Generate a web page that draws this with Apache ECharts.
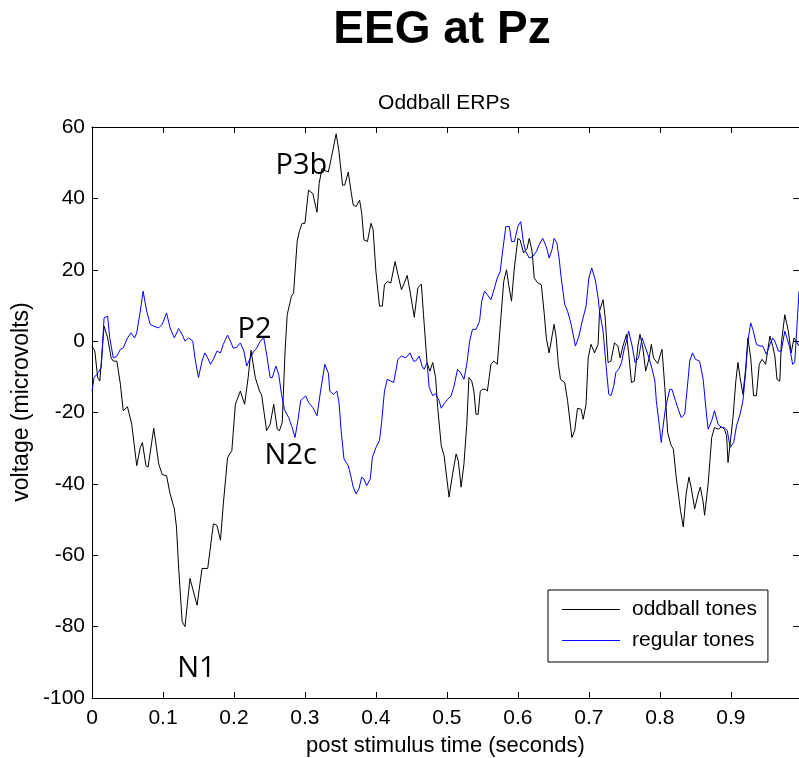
<!DOCTYPE html>
<html>
<head>
<meta charset="utf-8">
<script src="https://cdn.jsdelivr.net/npm/echarts@6/dist/echarts.min.js"></script>
<style>
  html, body { margin: 0; padding: 0; background: #fff; }
  #chart { width: 799px; height: 758px; }
</style>
</head>
<body>
<div id="chart"></div>
<script>
// Grand-average ERP at electrode Pz: [time (s), voltage (µV)]
const oddballTones = [
  [0.000,-1.4],[0.004,-2.8],[0.008,-10.2],[0.011,-11.2],[0.017,4.2],[0.022,0.9],[0.027,-4.7],[0.030,-5.6],
  [0.035,-5.6],[0.040,-12.1],[0.044,-19.5],[0.050,-18.4],[0.056,-23.3],[0.063,-34.9],[0.068,-29.8],[0.071,-28.4],
  [0.076,-34.9],[0.079,-35.3],[0.087,-24.4],[0.094,-34.4],[0.099,-37.4],[0.105,-37.7],[0.110,-42.8],[0.116,-47.0],
  [0.119,-52.1],[0.122,-63.3],[0.127,-78.6],[0.131,-80.0],[0.138,-66.5],[0.148,-74.0],[0.155,-63.7],[0.163,-63.7],
  [0.171,-51.2],[0.176,-51.6],[0.181,-55.8],[0.185,-45.6],[0.191,-32.6],[0.197,-30.7],[0.202,-17.7],[0.209,-14.0],
  [0.215,-17.7],[0.220,-10.2],[0.224,-2.6],[0.230,-10.2],[0.236,-14.0],[0.239,-15.1],[0.246,-25.1],[0.251,-23.3],
  [0.256,-17.7],[0.261,-24.7],[0.264,-25.1],[0.268,-22.8],[0.272,-2.8],[0.275,7.4],[0.281,12.6],[0.284,13.5],
  [0.289,27.9],[0.292,30.7],[0.296,33.0],[0.300,33.0],[0.305,42.3],[0.311,41.4],[0.317,36.1],[0.320,44.2],
  [0.324,48.4],[0.327,47.9],[0.333,47.4],[0.337,51.2],[0.344,58.1],[0.348,53.0],[0.353,43.7],[0.356,43.7],
  [0.361,47.4],[0.365,41.9],[0.368,38.1],[0.372,37.7],[0.377,39.5],[0.380,35.8],[0.383,28.4],[0.388,27.9],
  [0.393,33.0],[0.396,31.2],[0.400,19.5],[0.405,9.8],[0.409,9.8],[0.412,15.8],[0.416,16.7],[0.421,16.3],
  [0.427,22.3],[0.431,18.6],[0.436,14.4],[0.440,16.3],[0.444,18.4],[0.448,14.0],[0.454,6.7],[0.459,14.9],
  [0.464,16.0],[0.467,7.4],[0.472,-6.0],[0.476,-8.4],[0.480,-6.0],[0.484,-10.2],[0.487,-18.6],[0.492,-29.3],
  [0.496,-32.1],[0.503,-43.7],[0.508,-37.2],[0.513,-31.6],[0.516,-33.5],[0.520,-40.9],[0.524,-34.4],[0.528,-23.3],
  [0.531,-10.2],[0.535,-11.2],[0.538,-14.0],[0.541,-20.5],[0.544,-20.5],[0.547,-14.0],[0.550,-13.5],[0.554,-13.5],
  [0.557,-14.0],[0.562,-6.5],[0.566,-5.6],[0.571,-6.5],[0.576,6.5],[0.580,16.7],[0.584,20.0],[0.587,15.8],
  [0.591,11.2],[0.595,20.5],[0.600,28.8],[0.603,28.4],[0.608,24.7],[0.613,26.0],[0.616,28.8],[0.620,25.1],
  [0.623,17.7],[0.628,16.3],[0.633,15.8],[0.637,7.9],[0.640,0.9],[0.644,-3.3],[0.651,4.7],[0.654,0.9],
  [0.657,-6.5],[0.660,-10.7],[0.666,-11.6],[0.670,-16.7],[0.676,-27.0],[0.680,-25.1],[0.684,-18.8],[0.689,-19.1],
  [0.692,-21.9],[0.696,-17.7],[0.699,-4.7],[0.703,-0.9],[0.708,-3.3],[0.713,-0.9],[0.715,8.4],[0.720,11.6],
  [0.723,6.5],[0.727,-6.0],[0.731,-5.6],[0.736,-0.5],[0.741,-1.4],[0.744,-4.7],[0.748,-1.4],[0.753,1.9],
  [0.756,-3.3],[0.760,-11.6],[0.764,-11.2],[0.769,-1.4],[0.772,1.9],[0.776,-1.9],[0.780,-8.4],[0.785,-4.7],
  [0.788,-0.9],[0.791,-4.7],[0.797,-6.3],[0.803,-2.3],[0.807,-13.0],[0.811,-25.6],[0.816,-29.3],[0.819,-30.2],
  [0.823,-38.1],[0.829,-47.4],[0.833,-52.1],[0.837,-42.8],[0.841,-38.1],[0.844,-40.9],[0.849,-47.0],[0.854,-42.8],
  [0.857,-40.9],[0.861,-45.1],[0.863,-48.8],[0.868,-40.0],[0.873,-27.0],[0.877,-24.2],[0.882,-24.7],[0.887,-24.0],
  [0.891,-24.7],[0.894,-26.5],[0.896,-34.0],[0.899,-28.8],[0.903,-21.4],[0.907,-11.2],[0.910,-6.0],[0.913,-10.2],
  [0.917,-14.9],[0.921,-7.4],[0.924,0.9],[0.928,-4.7],[0.932,-15.3],[0.936,-15.3],[0.940,-6.5],[0.944,-5.1],
  [0.949,-6.5],[0.955,1.4],[0.959,-1.4],[0.962,-4.2],[0.965,-10.7],[0.969,-11.2],[0.971,-0.9],[0.976,7.4],
  [0.981,2.8],[0.985,-3.3],[0.989,0.9],[0.992,0.0],[0.996,-1.4]
];

const regularTones = [
  [0.000,-14.0],[0.003,-10.2],[0.009,-8.8],[0.013,-7.4],[0.017,6.5],[0.022,7.0],[0.025,0.9],[0.030,-4.7],
  [0.035,-4.2],[0.040,-2.3],[0.044,-1.9],[0.050,0.9],[0.055,2.3],[0.060,0.9],[0.063,2.3],[0.068,8.4],
  [0.072,14.0],[0.077,8.4],[0.082,4.7],[0.087,4.2],[0.094,3.7],[0.099,4.7],[0.105,7.9],[0.110,3.7],
  [0.116,0.9],[0.122,3.5],[0.127,1.9],[0.131,0.0],[0.136,0.9],[0.142,0.0],[0.145,-4.7],[0.150,-10.2],
  [0.155,-5.6],[0.159,-3.3],[0.163,-4.7],[0.167,-6.5],[0.171,-5.1],[0.176,-2.8],[0.181,-3.3],[0.185,-0.9],
  [0.191,1.7],[0.195,0.0],[0.199,-2.0],[0.204,-1.7],[0.209,-0.5],[0.214,-2.8],[0.218,-7.0],[0.223,-4.7],
  [0.228,-2.8],[0.232,-2.0],[0.237,0.0],[0.242,0.9],[0.246,-3.7],[0.251,-10.2],[0.254,-10.2],[0.259,-7.0],
  [0.263,-9.3],[0.267,-14.9],[0.271,-19.1],[0.277,-21.4],[0.282,-24.2],[0.286,-27.0],[0.290,-22.3],[0.294,-16.7],
  [0.301,-15.3],[0.305,-17.2],[0.311,-18.6],[0.317,-20.9],[0.322,-14.0],[0.328,-6.5],[0.333,-9.0],[0.335,-14.0],
  [0.340,-14.9],[0.345,-14.0],[0.348,-17.2],[0.351,-25.1],[0.355,-33.0],[0.361,-34.9],[0.365,-38.1],[0.368,-40.9],
  [0.372,-42.8],[0.376,-41.4],[0.380,-38.1],[0.383,-38.6],[0.387,-40.5],[0.392,-38.6],[0.395,-32.6],[0.400,-29.8],
  [0.405,-27.9],[0.408,-22.8],[0.412,-14.0],[0.416,-10.7],[0.421,-11.2],[0.425,-11.6],[0.428,-8.4],[0.431,-5.1],
  [0.436,-4.2],[0.442,-4.7],[0.448,-3.3],[0.453,-5.6],[0.456,-5.6],[0.461,-4.2],[0.465,-7.0],[0.468,-7.9],
  [0.472,-6.0],[0.475,-13.0],[0.480,-15.3],[0.484,-14.7],[0.489,-16.7],[0.492,-18.8],[0.496,-17.5],[0.501,-16.3],
  [0.506,-15.3],[0.510,-12.6],[0.515,-7.9],[0.519,-8.8],[0.524,-10.7],[0.528,-6.5],[0.532,0.0],[0.536,3.3],
  [0.541,3.3],[0.546,5.6],[0.549,11.2],[0.553,14.0],[0.557,13.0],[0.562,11.6],[0.567,14.9],[0.571,17.7],
  [0.575,19.5],[0.579,26.0],[0.583,32.1],[0.588,32.1],[0.591,27.9],[0.595,27.9],[0.600,32.1],[0.604,33.5],
  [0.608,27.4],[0.611,25.1],[0.616,23.3],[0.621,23.7],[0.626,25.1],[0.630,27.0],[0.635,28.8],[0.640,26.5],
  [0.644,23.3],[0.648,25.6],[0.651,28.8],[0.655,27.4],[0.658,23.3],[0.661,17.7],[0.666,10.2],[0.670,8.4],
  [0.675,4.7],[0.681,-1.4],[0.686,1.4],[0.690,5.1],[0.696,9.8],[0.700,17.7],[0.704,20.5],[0.709,17.2],
  [0.713,12.1],[0.715,8.4],[0.720,2.8],[0.724,-6.5],[0.728,-14.9],[0.731,-15.3],[0.735,-12.6],[0.738,-8.8],
  [0.742,-7.9],[0.746,-6.0],[0.750,-1.9],[0.753,0.0],[0.756,2.8],[0.761,-1.4],[0.765,-6.0],[0.770,-4.7],
  [0.775,0.9],[0.778,-0.9],[0.783,-3.7],[0.788,-7.0],[0.793,-11.2],[0.795,-16.7],[0.799,-23.3],[0.802,-28.4],
  [0.804,-24.7],[0.808,-18.6],[0.814,-13.5],[0.817,-13.5],[0.822,-16.7],[0.826,-19.1],[0.830,-21.4],[0.835,-20.5],
  [0.840,-10.2],[0.842,-5.6],[0.846,-3.3],[0.850,-5.1],[0.856,-5.6],[0.861,-10.7],[0.865,-19.1],[0.868,-24.7],
  [0.873,-22.3],[0.877,-19.5],[0.882,-23.3],[0.887,-24.2],[0.891,-24.2],[0.895,-25.1],[0.899,-29.8],[0.904,-28.4],
  [0.908,-23.7],[0.913,-20.5],[0.917,-16.7],[0.921,-8.4],[0.924,0.0],[0.928,5.1],[0.931,3.3],[0.936,-0.9],
  [0.941,-1.4],[0.945,-1.4],[0.950,-3.7],[0.955,-0.9],[0.959,0.9],[0.962,0.0],[0.967,-2.8],[0.971,-2.8],
  [0.976,2.8],[0.979,0.9],[0.983,-1.9],[0.987,-6.5],[0.990,-6.0],[0.993,3.7],[0.996,14.0]
];

// ERP component labels, placed in data coordinates
const peakNames = ['N1', 'P2', 'N2c', 'P3b'];
const peakTimes = [0.147, 0.229, 0.280, 0.295];
const peakVolts = [-91.8, 3.2, -32.2, 49.2];

// Axis ranges
const timeRange = [0, 0.996];
const timeStep = 0.1;
const voltRange = [-100, 60];
const voltStep = 20;

const seriesNames = ['oddball tones', 'regular tones'];
const seriesColors = ['#000000', '#0000ff'];

const FONT = '"Liberation Sans", Arial, sans-serif';

const chart = echarts.init(document.getElementById('chart'), null, { renderer: 'canvas' });

const frameLine = { show: true, onZero: false, lineStyle: { color: '#000', width: 1 } };
const innerTick = { show: true, inside: true, length: 6, lineStyle: { color: '#000', width: 1 } };

chart.setOption({
  animation: false,
  backgroundColor: '#fff',
  grid: { left: 92, top: 127, width: 707, height: 571, containLabel: false, outerBoundsMode: 'none' },
  graphic: [
    {
      type: 'text', x: 442, y: 30, silent: true,
      style: { text: 'EEG at Pz', align: 'center', verticalAlign: 'middle',
               font: 'bold 46px ' + FONT, fill: '#000' }
    },
    {
      type: 'text', x: 444, y: 103.5, silent: true,
      style: { text: 'Oddball ERPs', align: 'center', verticalAlign: 'middle',
               font: '21px ' + FONT, fill: '#000' }
    },
    {
      // y-axis title, rotated to read bottom-to-top
      type: 'text', x: 22, y: 402, rotation: Math.PI / 2, silent: true,
      style: { text: 'voltage (microvolts)', align: 'center', verticalAlign: 'middle',
               font: '23px ' + FONT, fill: '#000' }
    }
  ],
  legend: {
    data: seriesNames,
    orient: 'vertical',
    left: 548, top: 590,
    icon: 'rect',
    itemWidth: 58, itemHeight: 1, itemGap: 10,
    padding: [9, 11, 11, 14],
    borderColor: '#000', borderWidth: 1, borderRadius: 0,
    backgroundColor: '#fff',
    textStyle: { fontFamily: FONT, fontSize: 21, color: '#000', padding: [0, 0, 0, 7] }
  },
  xAxis: [
    {
      type: 'value', position: 'bottom',
      min: timeRange[0], max: timeRange[1], interval: timeStep,
      axisLine: frameLine, axisTick: innerTick, splitLine: { show: false },
      axisLabel: { color: '#000', fontFamily: FONT, fontSize: 21, margin: 10, showMaxLabel: false },
      name: 'post stimulus time (seconds)', nameLocation: 'middle', nameGap: 37,
      nameTextStyle: { color: '#000', fontFamily: FONT, fontSize: 22 }
    },
    {
      type: 'value', position: 'top',
      min: timeRange[0], max: timeRange[1], interval: timeStep,
      axisLine: frameLine, axisTick: innerTick, splitLine: { show: false },
      axisLabel: { show: false }
    }
  ],
  yAxis: [
    {
      type: 'value', position: 'left',
      min: voltRange[0], max: voltRange[1], interval: voltStep,
      axisLine: frameLine, axisTick: innerTick, splitLine: { show: false },
      axisLabel: { color: '#000', fontFamily: FONT, fontSize: 21, margin: 7 }
    },
    {
      type: 'value', position: 'right',
      min: voltRange[0], max: voltRange[1], interval: voltStep,
      axisLine: frameLine, axisTick: innerTick, splitLine: { show: false },
      axisLabel: { show: false }
    }
  ],
  series: [
    {
      name: seriesNames[0], type: 'line', data: oddballTones,
      symbol: 'none', showSymbol: false, smooth: false,
      lineStyle: { color: seriesColors[0], width: 1 },
      itemStyle: { color: seriesColors[0] },
      markPoint: {
        symbol: 'circle', symbolSize: 1,
        itemStyle: { color: 'rgba(0,0,0,0)' },
        label: {
          show: true, position: 'inside', formatter: '{b}',
          color: '#000', fontFamily: '"Open Sans", "Noto Sans", sans-serif', fontSize: 29
        },
        data: peakNames.map((n, i) => ({ name: n, coord: [peakTimes[i], peakVolts[i]] }))
      }
    },
    {
      name: seriesNames[1], type: 'line', data: regularTones,
      symbol: 'none', showSymbol: false, smooth: false,
      lineStyle: { color: seriesColors[1], width: 1 },
      itemStyle: { color: seriesColors[1] }
    }
  ]
});
</script>
</body>
</html>
